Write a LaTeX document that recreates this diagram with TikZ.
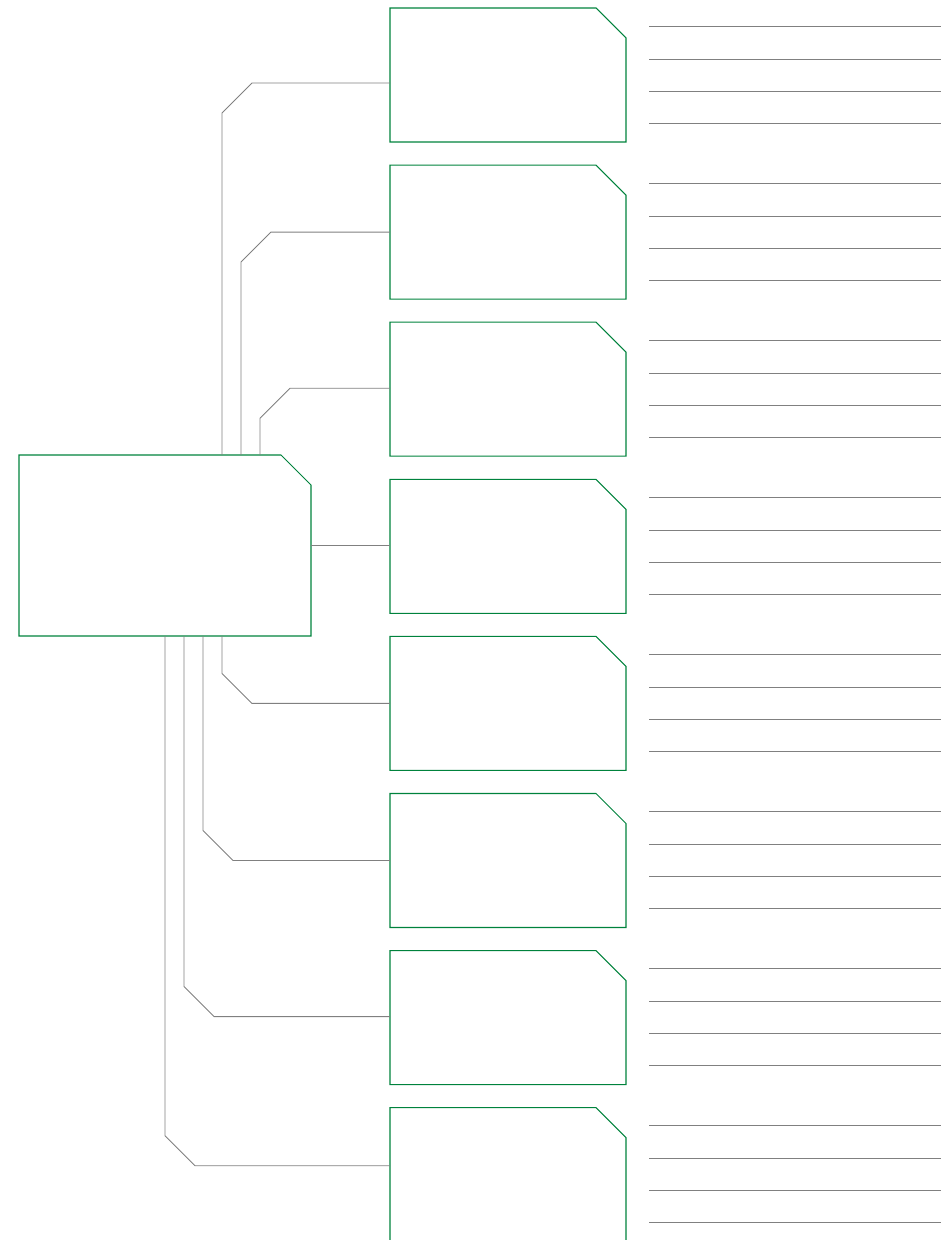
\documentclass[tikz,border=0pt]{standalone}
\usepackage{xcolor}
\usepackage{tikz}
\usetikzlibrary{positioning, calc}
\definecolor{mygreen}{RGB}{0,130,60}
\definecolor{mygray}{RGB}{128,128,128}
\tikzset{
  hub/.style={rectangle, inner sep=0pt, outer sep=0pt,
    minimum width=5.84cm, minimum height=3.62cm},
  topic/.style={rectangle, inner sep=0pt, outer sep=0pt,
    minimum width=4.72cm, minimum height=2.68cm},
  outline/.style={draw=mygreen, line width=0.6pt},
  link/.style={draw=mygray, line width=0.5pt},
  rule/.style={draw=mygray, line width=0.5pt}
}

\begin{document}
\begin{tikzpicture}[node distance=0.462cm]
  \useasboundingbox (0,0) rectangle (19.02,-24.8);

  % central box
  \node[hub, anchor=north west] (main) at (0.38,-9.1) {};

  % topic boxes
  \node[topic, anchor=north west] (t1) at (7.8,-0.16) {};
  \node[topic, below=of t1] (t2) {};
  \node[topic, below=of t2] (t3) {};
  \node[topic, below=of t3] (t4) {};
  \node[topic, below=of t4] (t5) {};
  \node[topic, below=of t5] (t6) {};
  \node[topic, below=of t6] (t7) {};
  \node[topic, below=of t7] (t8) {};

  % cut corner outlines
  \foreach \n in {main,t1,t2,t3,t4,t5,t6,t7,t8}
    \draw[outline] (\n.south west) |- ([xshift=-0.6cm]\n.north east)
      -- ([yshift=-0.6cm]\n.north east) -- (\n.south east) -- cycle;

  % writing lines
  \foreach \n in {t1,t2,t3,t4,t5,t6,t7,t8}
    \foreach \d in {0.36,1.02,1.66,2.3}
      \draw[rule] ([xshift=0.46cm, yshift=-\d cm]\n.north east) -- ++(5.84,0);

  % exit points on the central box
  \coordinate (u1) at ([xshift=4.06cm]main.north west);
  \coordinate (u2) at ([xshift=4.44cm]main.north west);
  \coordinate (u3) at ([xshift=4.82cm]main.north west);
  \coordinate (d5) at ([xshift=4.06cm]main.south west);
  \coordinate (d6) at ([xshift=3.68cm]main.south west);
  \coordinate (d7) at ([xshift=3.3cm]main.south west);
  \coordinate (d8) at ([xshift=2.92cm]main.south west);

  % upper connectors
  \foreach \s/\t/\dy in {u1/t1/1.5, u2/t2/1.34, u3/t3/1.32} {
    \coordinate (\t-in) at ([yshift=-\dy cm]\t.north west);
    \draw[link] (\s) -- ($(\s |- \t-in)+(0,-0.6)$)
      -- ($(\s |- \t-in)+(0.6,0)$) -- (\t-in);
  }

  % straight connector
  \draw[link] (main.east) -- (main.east -| t4.west);

  % lower connectors
  \foreach \s/\t/\dy in {d5/t5/1.34, d6/t6/1.34, d7/t7/1.32, d8/t8/1.16} {
    \coordinate (\t-in) at ([yshift=-\dy cm]\t.north west);
    \draw[link] (\s) -- ($(\s |- \t-in)+(0,0.6)$)
      -- ($(\s |- \t-in)+(0.6,0)$) -- (\t-in);
  }
\end{tikzpicture}
\end{document}
